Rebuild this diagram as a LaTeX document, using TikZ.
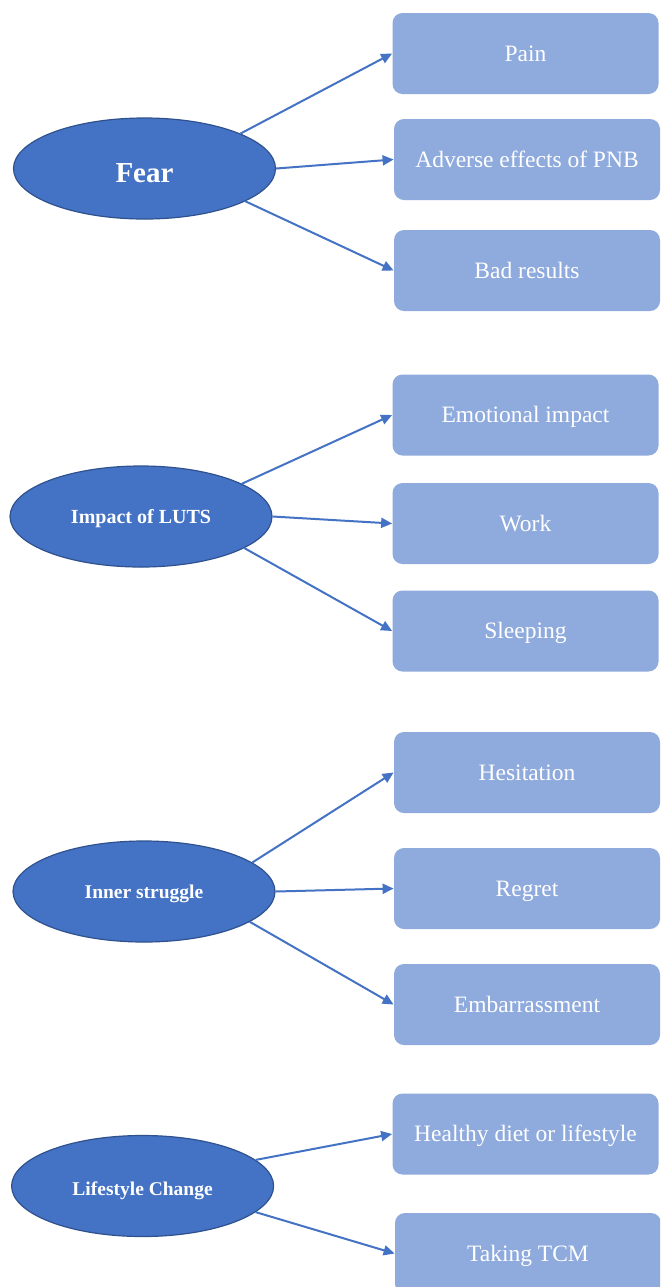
\documentclass[tikz,border=0pt]{standalone}
\usepackage{fontspec}
\setmainfont{Liberation Serif}
\usetikzlibrary{arrows.meta,shapes.geometric}
\definecolor{ellblue}{HTML}{4472C4}
\definecolor{ellborder}{HTML}{2F528F}
\definecolor{boxblue}{HTML}{8FAADC}
\definecolor{arrblue}{HTML}{4472C4}
\begin{document}
\begin{tikzpicture}[x=0.5pt,y=-0.5pt,
  theme/.style={ellipse, draw=ellborder, line width=0.6pt, fill=ellblue, text=white,
    inner sep=0pt, minimum width=131pt, minimum height=50.5pt,
    text height=0.68em, text depth=0pt},
  item/.style={rectangle, rounded corners=5pt, fill=boxblue, text=white,
    font=\fontsize{11.75}{14}\selectfont, minimum width=133pt, minimum height=40.5pt,
    text height=0.78em, text depth=0pt, inner sep=0pt},
  link/.style={-{Triangle[length=5.5pt,width=5pt]}, draw=arrblue, line width=1pt}]
\fill[white] (0,0) rectangle (660,1287);
\useasboundingbox (0,0) rectangle (660,1287);
\clip (0,0) rectangle (660,1287);

% Group 1
\node[theme, font=\fontsize{14.5}{16}\selectfont\bfseries] (fear) at (144.5,168.5) {\raisebox{-3.5pt}{Fear}};
\node[item] (pain) at (525.5,53.5) {Pain};
\node[item] (adv) at (527,159.5) {Adverse effects of PNB};
\node[item] (bad) at (527,270.5) {Bad results};
\draw[link] (fear.20) -- (pain.west);
\draw[link] (fear.east) -- (adv.west);
\draw[link] (fear.-18) -- (bad.west);

% Group 2
\node[theme, font=\fontsize{10}{12}\selectfont\bfseries] (luts) at (141,516.5) {Impact of LUTS};
\node[item] (emo) at (525.5,415) {Emotional impact};
\node[item] (work) at (525.5,523.5) {Work};
\node[item] (sleep) at (525.5,631) {Sleeping};
\draw[link] (luts.18) -- (emo.west);
\draw[link] (luts.east) -- (work.west);
\draw[link] (luts.-17) -- (sleep.west);

% Group 3
\node[theme, font=\fontsize{9.75}{12}\selectfont\bfseries] (inner) at (144,891.5) {Inner struggle};
\node[item] (hes) at (527,772.5) {Hesitation};
\node[item] (reg) at (527,888.5) {Regret};
\node[item] (emb) at (527,1004.5) {Embarrassment};
\draw[link] (inner.15) -- (hes.west);
\draw[link] (inner.east) -- (reg.west);
\draw[link] (inner.-16) -- (emb.west);

% Group 4
\node[theme, font=\fontsize{9.75}{12}\selectfont\bfseries] (life) at (142.6,1186) {\raisebox{-1.2pt}{Lifestyle Change}};
\node[item] (diet) at (525.5,1134) {Healthy diet or lifestyle};
\node[item] (tcm) at (528,1253.5) {Taking TCM};
\draw[link] (life.13) -- (diet.west);
\draw[link] (life.-13) -- (tcm.west);
\end{tikzpicture}
\end{document}
